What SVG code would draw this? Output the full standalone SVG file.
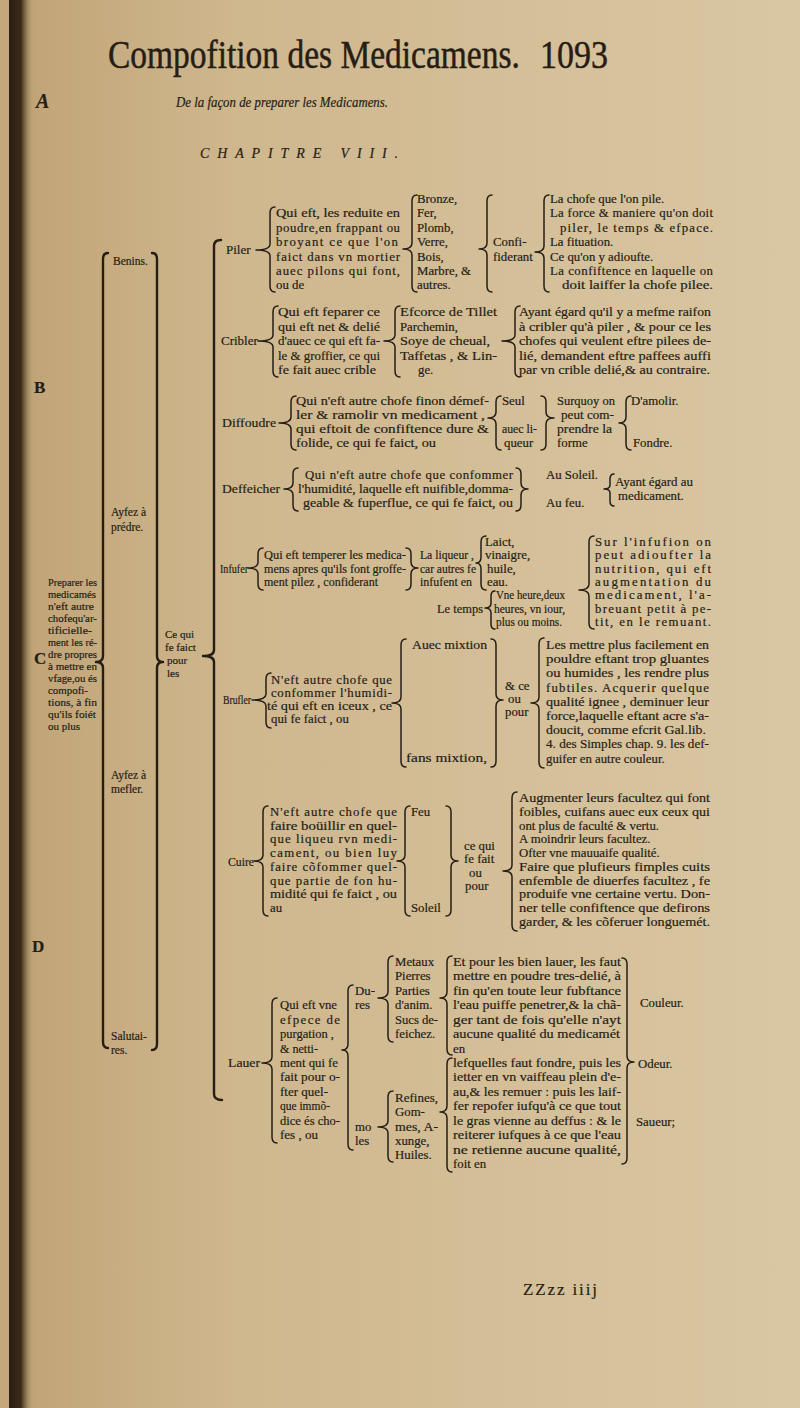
<svg xmlns="http://www.w3.org/2000/svg" width="800" height="1408" viewBox="0 0 800 1408">
<defs>
<linearGradient id="pg" x1="0" y1="0" x2="1" y2="0">
<stop offset="0" stop-color="#b99d70"/>
<stop offset="0.05" stop-color="#c2a679"/>
<stop offset="0.3" stop-color="#cfb78e"/>
<stop offset="1" stop-color="#d9c7a3"/>
</linearGradient>
<linearGradient id="gut" x1="0" y1="0" x2="1" y2="0">
<stop offset="0" stop-color="#2a1e12"/>
<stop offset="0.5" stop-color="#3a2a18"/>
<stop offset="1" stop-color="#a88b60" stop-opacity="0"/>
</linearGradient>
<style>
text{font-family:'Liberation Serif','DejaVu Serif',serif;fill:#261e15;stroke:#261e15;stroke-width:0.2}
.t{font-size:12.8px}
.s{font-size:10.5px}
.rl{font-size:11.5px}
.cq{font-size:11px}
.lb{font-size:13px}
.ml{font-size:17px;font-weight:bold}
.ti{font-size:40px;stroke-width:0.5}
.sb{font-size:14.5px;font-style:italic}
.ch{font-size:14px;font-style:italic}
.ft{font-size:17px}
.am{font-size:20px;font-style:italic;font-weight:bold}
.br{fill:none;stroke:#261e15;stroke-width:1.5;stroke-linecap:round;stroke-linejoin:round}
.bb{fill:none;stroke:#261e15;stroke-width:2.4;stroke-linecap:round;stroke-linejoin:round}
</style>
</defs>
<rect x="0" y="0" width="800" height="1408" fill="url(#pg)"/>
<rect x="0" y="0" width="9" height="1408" fill="#c4a87b"/>
<rect x="9" y="0" width="24" height="1408" fill="url(#gut)"/>

<g id="header">
<text class="ti" transform="translate(108,68) scale(0.837,1)" x="0" y="0">Compofition des Medicamens.</text>
<text class="ti" transform="translate(540,68) scale(0.85,1)" x="0" y="0">1093</text>
<text class="am" x="36" y="108">A</text>
<text class="sb" x="176" y="107" textLength="212" lengthAdjust="spacingAndGlyphs">De la façon de preparer les Medicamens.</text>
<text class="ch" x="200" y="158" textLength="198" lengthAdjust="spacing">CHAPITRE VIII.</text>
</g>

<g id="margin-letters">
<text class="ml" x="34" y="393">B</text>
<text class="ml" x="34" y="664">C</text>
<text class="ml" x="32" y="952">D</text>
</g>

<g id="margin-note">
<text class="s" x="48" y="586" textLength="49" lengthAdjust="spacingAndGlyphs">Preparer les</text>
<text class="s" x="48" y="598" textLength="48" lengthAdjust="spacingAndGlyphs">medicamés</text>
<text class="s" x="48" y="610" textLength="46" lengthAdjust="spacingAndGlyphs">n'eft autre</text>
<text class="s" x="48" y="622" textLength="49" lengthAdjust="spacingAndGlyphs">chofequ'ar-</text>
<text class="s" x="48" y="634" textLength="44" lengthAdjust="spacingAndGlyphs">tificielle-</text>
<text class="s" x="48" y="646" textLength="49" lengthAdjust="spacingAndGlyphs">ment les ré-</text>
<text class="s" x="48" y="658" textLength="49" lengthAdjust="spacingAndGlyphs">dre propres</text>
<text class="s" x="48" y="670" textLength="49" lengthAdjust="spacingAndGlyphs">à mettre en</text>
<text class="s" x="48" y="682" textLength="49" lengthAdjust="spacingAndGlyphs">vfage,ou és</text>
<text class="s" x="48" y="694" textLength="40" lengthAdjust="spacingAndGlyphs">compofi-</text>
<text class="s" x="48" y="706" textLength="49" lengthAdjust="spacingAndGlyphs">tions, à fin</text>
<text class="s" x="48" y="718" textLength="48" lengthAdjust="spacingAndGlyphs">qu'ils foiét</text>
<text class="s" x="48" y="730" textLength="32" lengthAdjust="spacingAndGlyphs">ou plus</text>
</g>

<g id="root">
<text class="rl" x="113" y="265">Benins.</text>
<text class="rl" x="111" y="516">Ayfez à</text>
<text class="rl" x="111" y="531">prédre.</text>
<text class="rl" x="111" y="779">Ayfez à</text>
<text class="rl" x="111" y="793">mefler.</text>
<text class="rl" x="111" y="1040">Salutai-</text>
<text class="rl" x="111" y="1054">res.</text>
</g>

<g id="n-ce-qui">
<text class="cq" x="165" y="638">Ce qui</text>
<text class="cq" x="165" y="651">fe faict</text>
<text class="cq" x="167" y="664">pour</text>
<text class="cq" x="167" y="677">les</text>
</g>

<g id="n-piler">
<text class="lb" x="226" y="254">Piler</text>
<text class="t" x="276" y="217" textLength="124" lengthAdjust="spacingAndGlyphs">Qui eft, les reduite en</text>
<text class="t" x="276" y="231.5" textLength="124" lengthAdjust="spacing">poudre,en frappant ou</text>
<text class="t" x="276" y="246" textLength="122" lengthAdjust="spacing">broyant ce que l'on</text>
<text class="t" x="276" y="260.5" textLength="124" lengthAdjust="spacing">faict dans vn mortier</text>
<text class="t" x="276" y="275" textLength="124" lengthAdjust="spacing">auec pilons qui font,</text>
<text class="t" x="276" y="289">ou de</text>
<text class="t" x="417" y="203">Bronze,</text>
<text class="t" x="417" y="217">Fer,</text>
<text class="t" x="417" y="231.5">Plomb,</text>
<text class="t" x="417" y="246">Verre,</text>
<text class="t" x="417" y="260.5">Bois,</text>
<text class="t" x="417" y="275">Marbre, &amp;</text>
<text class="t" x="417" y="289">autres.</text>
<text class="t" x="493" y="246">Confi-</text>
<text class="t" x="493" y="260.5">fiderant</text>
<text class="t" x="550" y="203">La chofe que l'on pile.</text>
<text class="t" x="550" y="217" textLength="163" lengthAdjust="spacing">La force &amp; maniere qu'on doit</text>
<text class="t" x="560" y="231.5" textLength="153" lengthAdjust="spacing">piler, le temps &amp; efpace.</text>
<text class="t" x="550" y="246">La fituation.</text>
<text class="t" x="550" y="260.5">Ce qu'on y adioufte.</text>
<text class="t" x="550" y="275" textLength="163" lengthAdjust="spacing">La confiftence en laquelle on</text>
<text class="t" x="562" y="289" textLength="151" lengthAdjust="spacingAndGlyphs">doit laiffer la chofe pilee.</text>
</g>

<g id="n-cribler">
<text class="lb" x="221" y="345">Cribler</text>
<text class="t" x="278" y="316" textLength="102" lengthAdjust="spacingAndGlyphs">Qui eft feparer ce</text>
<text class="t" x="278" y="330.5" textLength="102" lengthAdjust="spacingAndGlyphs">qui eft net &amp; delié</text>
<text class="t" x="278" y="345" textLength="102" lengthAdjust="spacingAndGlyphs">d'auec ce qui eft fa-</text>
<text class="t" x="278" y="359.5" textLength="102" lengthAdjust="spacingAndGlyphs">le &amp; groffier, ce qui</text>
<text class="t" x="278" y="374" textLength="98" lengthAdjust="spacingAndGlyphs">fe fait auec crible</text>
<text class="t" x="400" y="316" textLength="97" lengthAdjust="spacingAndGlyphs">Efcorce de Tillet</text>
<text class="t" x="400" y="330.5">Parchemin,</text>
<text class="t" x="400" y="345" textLength="90" lengthAdjust="spacingAndGlyphs">Soye de cheual,</text>
<text class="t" x="400" y="359.5" textLength="97" lengthAdjust="spacingAndGlyphs">Taffetas , &amp; Lin-</text>
<text class="t" x="418" y="374">ge.</text>
<text class="t" x="519" y="316" textLength="192" lengthAdjust="spacingAndGlyphs">Ayant égard qu'il y a mefme raifon</text>
<text class="t" x="519" y="330.5" textLength="192" lengthAdjust="spacingAndGlyphs">à cribler qu'à piler , &amp; pour ce les</text>
<text class="t" x="519" y="345" textLength="192" lengthAdjust="spacingAndGlyphs">chofes qui veulent eftre pilees de-</text>
<text class="t" x="519" y="359.5" textLength="192" lengthAdjust="spacingAndGlyphs">lié, demandent eftre paffees auffi</text>
<text class="t" x="519" y="374" textLength="191" lengthAdjust="spacingAndGlyphs">par vn crible delié,&amp; au contraire.</text>
</g>

<g id="n-diffoudre">
<text class="lb" x="222" y="427" textLength="54" lengthAdjust="spacingAndGlyphs">Diffoudre</text>
<text class="t" x="296" y="405" textLength="193" lengthAdjust="spacingAndGlyphs">Qui n'eft autre chofe finon démef-</text>
<text class="t" x="296" y="419" textLength="189" lengthAdjust="spacingAndGlyphs">ler &amp; ramolir vn medicament ,</text>
<text class="t" x="296" y="433" textLength="193" lengthAdjust="spacingAndGlyphs">qui eftoit de confiftence dure &amp;</text>
<text class="t" x="296" y="447" textLength="140" lengthAdjust="spacingAndGlyphs">folide, ce qui fe faict, ou</text>
<text class="t" x="502" y="405">Seul</text>
<text class="t" x="502" y="433" textLength="35" lengthAdjust="spacingAndGlyphs">auec li-</text>
<text class="t" x="504" y="447">queur</text>
<text class="t" x="557" y="405" textLength="58" lengthAdjust="spacingAndGlyphs">Surquoy on</text>
<text class="t" x="561" y="419" textLength="53" lengthAdjust="spacingAndGlyphs">peut com-</text>
<text class="t" x="557" y="433" textLength="55" lengthAdjust="spacingAndGlyphs">prendre la</text>
<text class="t" x="557" y="447">forme</text>
<text class="t" x="631" y="405">D'amolir.</text>
<text class="t" x="633" y="447">Fondre.</text>
</g>

<g id="n-deffeicher">
<text class="lb" x="222" y="493" textLength="58" lengthAdjust="spacingAndGlyphs">Deffeicher</text>
<text class="t" x="305" y="479" textLength="208" lengthAdjust="spacing">Qui n'eft autre chofe que confommer</text>
<text class="t" x="298" y="493" textLength="215" lengthAdjust="spacingAndGlyphs">l'humidité, laquelle eft nuifible,domma-</text>
<text class="t" x="303" y="507" textLength="210" lengthAdjust="spacingAndGlyphs">geable &amp; fuperflue, ce qui fe faict, ou</text>
<text class="t" x="546" y="479" textLength="52" lengthAdjust="spacingAndGlyphs">Au Soleil.</text>
<text class="t" x="546" y="507">Au feu.</text>
<text class="t" x="615" y="486" textLength="78" lengthAdjust="spacingAndGlyphs">Ayant égard au</text>
<text class="t" x="618" y="500">medicament.</text>
</g>

<g id="n-infufer">
<text class="lb" x="220" y="573" textLength="28" lengthAdjust="spacingAndGlyphs">Infufer</text>
<text class="t" x="264" y="559" textLength="142" lengthAdjust="spacingAndGlyphs">Qui eft temperer les medica-</text>
<text class="t" x="264" y="572.6" textLength="142" lengthAdjust="spacingAndGlyphs">mens apres qu'ils font groffe-</text>
<text class="t" x="264" y="586" textLength="114" lengthAdjust="spacingAndGlyphs">ment pilez , confiderant</text>
<text class="t" x="420" y="559" textLength="54" lengthAdjust="spacingAndGlyphs">La liqueur ,</text>
<text class="t" x="420" y="572.6" textLength="56" lengthAdjust="spacingAndGlyphs">car autres fe</text>
<text class="t" x="420" y="586" textLength="52" lengthAdjust="spacingAndGlyphs">infufent en</text>
<text class="t" x="485" y="546">Laict,</text>
<text class="t" x="485" y="559.3">vinaigre,</text>
<text class="t" x="487" y="572.6">huile,</text>
<text class="t" x="487" y="586">eau.</text>
<text class="t" x="437" y="612.6" textLength="46" lengthAdjust="spacingAndGlyphs">Le temps</text>
<text class="t" x="496" y="599.3" textLength="69" lengthAdjust="spacingAndGlyphs">Vne heure,deux</text>
<text class="t" x="494" y="612.6" textLength="71" lengthAdjust="spacingAndGlyphs">heures, vn iour,</text>
<text class="t" x="496" y="626" textLength="66" lengthAdjust="spacingAndGlyphs">plus ou moins.</text>
<text class="t" x="595" y="546" textLength="116" lengthAdjust="spacing">Sur l'infufion on</text>
<text class="t" x="595" y="559.3" textLength="116" lengthAdjust="spacing">peut adioufter la</text>
<text class="t" x="595" y="572.6" textLength="116" lengthAdjust="spacing">nutrition, qui eft</text>
<text class="t" x="595" y="586" textLength="116" lengthAdjust="spacing">augmentation du</text>
<text class="t" x="595" y="599.3" textLength="116" lengthAdjust="spacing">medicament, l'a-</text>
<text class="t" x="595" y="612.6" textLength="116" lengthAdjust="spacing">breuant petit à pe-</text>
<text class="t" x="595" y="626" textLength="116" lengthAdjust="spacing">tit, en le remuant.</text>
</g>

<g id="n-brufler">
<text class="lb" x="223" y="704" textLength="28" lengthAdjust="spacingAndGlyphs">Brufler</text>
<text class="t" x="271" y="684" textLength="121" lengthAdjust="spacing">N'eft autre chofe que</text>
<text class="t" x="271" y="697" textLength="121" lengthAdjust="spacing">confommer l'humidi-</text>
<text class="t" x="267" y="710" textLength="125" lengthAdjust="spacingAndGlyphs">té qui eft en iceux , ce</text>
<text class="t" x="271" y="723">qui fe faict , ou</text>
<text class="t" x="412" y="649" textLength="75" lengthAdjust="spacingAndGlyphs">Auec mixtion</text>
<text class="t" x="406" y="762" textLength="81" lengthAdjust="spacingAndGlyphs">fans mixtion,</text>
<text class="t" x="505" y="690">&amp; ce</text>
<text class="t" x="508" y="703">ou</text>
<text class="t" x="505" y="716">pour</text>
<text class="t" x="546" y="649" textLength="163" lengthAdjust="spacingAndGlyphs">Les mettre plus facilement en</text>
<text class="t" x="546" y="663.2" textLength="163" lengthAdjust="spacingAndGlyphs">pouldre eftant trop gluantes</text>
<text class="t" x="546" y="677.4" textLength="163" lengthAdjust="spacingAndGlyphs">ou humides , les rendre plus</text>
<text class="t" x="546" y="691.6" textLength="163" lengthAdjust="spacing">fubtiles. Acquerir quelque</text>
<text class="t" x="546" y="705.8" textLength="163" lengthAdjust="spacingAndGlyphs">qualité ignee , deminuer leur</text>
<text class="t" x="546" y="720" textLength="163" lengthAdjust="spacingAndGlyphs">force,laquelle eftant acre s'a-</text>
<text class="t" x="546" y="734.2" textLength="160" lengthAdjust="spacingAndGlyphs">doucit, comme efcrit Gal.lib.</text>
<text class="t" x="546" y="748.4" textLength="163" lengthAdjust="spacingAndGlyphs">4. des Simples chap. 9. les def-</text>
<text class="t" x="546" y="762.6">guifer en autre couleur.</text>
</g>

<g id="n-cuire">
<text class="lb" x="228" y="866" textLength="26" lengthAdjust="spacingAndGlyphs">Cuire</text>
<text class="t" x="270" y="816" textLength="127" lengthAdjust="spacing">N'eft autre chofe que</text>
<text class="t" x="270" y="829.7" textLength="127" lengthAdjust="spacingAndGlyphs">faire boüillir en quel-</text>
<text class="t" x="270" y="843.4" textLength="127" lengthAdjust="spacing">que liqueu rvn medi-</text>
<text class="t" x="270" y="857.1" textLength="127" lengthAdjust="spacing">cament, ou bien luy</text>
<text class="t" x="270" y="870.8" textLength="127" lengthAdjust="spacing">faire cõfommer quel-</text>
<text class="t" x="270" y="884.5" textLength="127" lengthAdjust="spacing">que partie de fon hu-</text>
<text class="t" x="270" y="898.2" textLength="127" lengthAdjust="spacingAndGlyphs">midité qui fe faict , ou</text>
<text class="t" x="270" y="912">au</text>
<text class="t" x="411" y="816">Feu</text>
<text class="t" x="411" y="912">Soleil</text>
<text class="t" x="464" y="850">ce qui</text>
<text class="t" x="464" y="863">fe fait</text>
<text class="t" x="469" y="877">ou</text>
<text class="t" x="465" y="890">pour</text>
<text class="t" x="519" y="802" textLength="191" lengthAdjust="spacingAndGlyphs">Augmenter leurs facultez qui font</text>
<text class="t" x="519" y="816" textLength="191" lengthAdjust="spacingAndGlyphs">foibles, cuifans auec eux ceux qui</text>
<text class="t" x="519" y="829.7">ont plus de faculté &amp; vertu.</text>
<text class="t" x="519" y="843.4">A moindrir leurs facultez.</text>
<text class="t" x="519" y="857.1">Ofter vne mauuaife qualité.</text>
<text class="t" x="519" y="870.8" textLength="191" lengthAdjust="spacingAndGlyphs">Faire que plufieurs fimples cuits</text>
<text class="t" x="519" y="884.5" textLength="191" lengthAdjust="spacingAndGlyphs">enfemble de diuerfes facultez , fe</text>
<text class="t" x="519" y="898.2" textLength="191" lengthAdjust="spacingAndGlyphs">produife vne certaine vertu. Don-</text>
<text class="t" x="519" y="912" textLength="191" lengthAdjust="spacingAndGlyphs">ner telle confiftence que defirons</text>
<text class="t" x="519" y="926" textLength="191" lengthAdjust="spacingAndGlyphs">garder, &amp; les cõferuer longuemét.</text>
</g>

<g id="n-lauer">
<text class="lb" x="228" y="1067" textLength="32" lengthAdjust="spacingAndGlyphs">Lauer</text>
<text class="t" x="280" y="1009.3" textLength="57" lengthAdjust="spacingAndGlyphs">Qui eft vne</text>
<text class="t" x="280" y="1023.7" textLength="60" lengthAdjust="spacing">efpece de</text>
<text class="t" x="280" y="1038.2" textLength="54" lengthAdjust="spacingAndGlyphs">purgation ,</text>
<text class="t" x="280" y="1052.6" textLength="38" lengthAdjust="spacingAndGlyphs">&amp; netti-</text>
<text class="t" x="280" y="1067" textLength="58" lengthAdjust="spacingAndGlyphs">ment qui fe</text>
<text class="t" x="280" y="1081.4" textLength="60" lengthAdjust="spacingAndGlyphs">fait pour o-</text>
<text class="t" x="280" y="1095.9" textLength="48" lengthAdjust="spacingAndGlyphs">fter quel-</text>
<text class="t" x="280" y="1110.3" textLength="50" lengthAdjust="spacingAndGlyphs">que immõ-</text>
<text class="t" x="280" y="1124.7" textLength="60" lengthAdjust="spacingAndGlyphs">dice és cho-</text>
<text class="t" x="280" y="1139.2" textLength="38" lengthAdjust="spacingAndGlyphs">fes , ou</text>
<text class="t" x="355" y="994.9">Du-</text>
<text class="t" x="355" y="1009.3">res</text>
<text class="t" x="355" y="1131">mo</text>
<text class="t" x="355" y="1145">les</text>
<text class="t" x="395" y="966">Metaux</text>
<text class="t" x="395" y="980.4">Pierres</text>
<text class="t" x="395" y="994.9">Parties</text>
<text class="t" x="395" y="1009.3">d'anim.</text>
<text class="t" x="395" y="1023.7" textLength="43" lengthAdjust="spacingAndGlyphs">Sucs de-</text>
<text class="t" x="395" y="1038.2">feichez.</text>
<text class="t" x="395" y="1102" textLength="43" lengthAdjust="spacingAndGlyphs">Refines,</text>
<text class="t" x="395" y="1116">Gom-</text>
<text class="t" x="395" y="1131" textLength="43" lengthAdjust="spacingAndGlyphs">mes, A-</text>
<text class="t" x="395" y="1145">xunge,</text>
<text class="t" x="395" y="1159">Huiles.</text>
<text class="t" x="453" y="966" textLength="168" lengthAdjust="spacingAndGlyphs">Et pour les bien lauer, les faut</text>
<text class="t" x="453" y="980.4" textLength="168" lengthAdjust="spacingAndGlyphs">mettre en poudre tres-delié, à</text>
<text class="t" x="453" y="994.9" textLength="168" lengthAdjust="spacingAndGlyphs">fin qu'en toute leur fubftance</text>
<text class="t" x="453" y="1009.3" textLength="168" lengthAdjust="spacingAndGlyphs">l'eau puiffe penetrer,&amp; la chã-</text>
<text class="t" x="453" y="1023.7" textLength="168" lengthAdjust="spacingAndGlyphs">ger tant de fois qu'elle n'ayt</text>
<text class="t" x="453" y="1038.2" textLength="167" lengthAdjust="spacingAndGlyphs">aucune qualité du medicamét</text>
<text class="t" x="453" y="1052.6">en</text>
<text class="t" x="453" y="1067" textLength="168" lengthAdjust="spacingAndGlyphs">lefquelles faut fondre, puis les</text>
<text class="t" x="453" y="1081.4" textLength="168" lengthAdjust="spacingAndGlyphs">ietter en vn vaiffeau plein d'e-</text>
<text class="t" x="453" y="1095.9" textLength="168" lengthAdjust="spacingAndGlyphs">au,&amp; les remuer : puis les laif-</text>
<text class="t" x="453" y="1110.3" textLength="168" lengthAdjust="spacingAndGlyphs">fer repofer iufqu'à ce que tout</text>
<text class="t" x="453" y="1124.7" textLength="168" lengthAdjust="spacingAndGlyphs">le gras vienne au deffus : &amp; le</text>
<text class="t" x="453" y="1139.2" textLength="168" lengthAdjust="spacingAndGlyphs">reiterer iufques à ce que l'eau</text>
<text class="t" x="453" y="1153.6" textLength="168" lengthAdjust="spacingAndGlyphs">ne retienne aucune qualité,</text>
<text class="t" x="453" y="1168">foit en</text>
<text class="t" x="640" y="1007">Couleur.</text>
<text class="t" x="638" y="1068">Odeur.</text>
<text class="t" x="636" y="1126">Saueur;</text>
</g>

<g id="footer">
<text class="ft" x="523" y="1295" textLength="74" lengthAdjust="spacing">ZZzz iiij</text>
</g>

<g id="connectors">
<path class="bb" d="M108,253 Q103,253 103,259 L103,656 Q103,662 96,662 Q103,662 103,668 L103,1042 Q103,1048 108,1048"/>
<path class="bb" d="M152,253 Q157,253 157,259 L157,656 Q157,662 163,662 Q157,662 157,668 L157,1044 Q157,1050 152,1050"/>
<path class="bb" d="M221,240 Q214,240 214,246 L214,650 Q214,656 203,656 Q214,656 214,662 L214,1094 Q214,1100 222,1100"/>
<path class="br" d="M275,207 Q270,207 270,213 L270,244 Q270,250 256,250 Q270,250 270,256 L270,286 Q270,292 275,292"/>
<path class="br" d="M417,195 Q412,195 412,201 L412,243 Q412,249 403,249 Q412,249 412,255 L412,286 Q412,292 417,292"/>
<path class="br" d="M492,195 Q487,195 487,201 L487,243 Q487,249 479,249 Q487,249 487,255 L487,286 Q487,292 492,292"/>
<path class="br" d="M549,195 Q544,195 544,201 L544,246 Q544,252 535,252 Q544,252 544,258 L544,286 Q544,292 549,292"/>
<path class="br" d="M278,306 Q273,306 273,312 L273,335 Q273,341 258,341 Q273,341 273,347 L273,371 Q273,377 278,377"/>
<path class="br" d="M400,306 Q395,306 395,312 L395,335 Q395,341 384,341 Q395,341 395,347 L395,371 Q395,377 400,377"/>
<path class="br" d="M520,306 Q515,306 515,312 L515,335 Q515,341 502,341 Q515,341 515,347 L515,371 Q515,377 520,377"/>
<path class="br" d="M296,396 Q291,396 291,402 L291,417 Q291,423 279,423 Q291,423 291,429 L291,444 Q291,450 296,450"/>
<path class="br" d="M501,396 Q496,396 496,402 L496,412 Q496,418 488,418 Q496,418 496,424 L496,444 Q496,450 501,450"/>
<path class="br" d="M541,396 Q546,396 546,402 L546,412 Q546,418 554,418 Q546,418 546,424 L546,444 Q546,450 541,450"/>
<path class="br" d="M631,396 Q626,396 626,402 L626,417 Q626,423 619,423 Q626,423 626,429 L626,444 Q626,450 631,450"/>
<path class="br" d="M298,468 Q293,468 293,474 L293,483 Q293,489 284,489 Q293,489 293,495 L293,505 Q293,511 298,511"/>
<path class="br" d="M516,468 Q521,468 521,474 L521,483 Q521,489 528,489 Q521,489 521,495 L521,505 Q521,511 516,511"/>
<path class="br" d="M614,474 Q610,474 610,479 L610,485 Q610,489 604,489 Q610,489 610,493 L610,501 Q610,506 614,506"/>
<path class="br" d="M263,548 Q258,548 258,554 L258,562 Q258,568 248,568 Q258,568 258,574 L258,584 Q258,590 263,590"/>
<path class="br" d="M406,548 Q411,548 411,554 L411,562 Q411,568 418,568 Q411,568 411,574 L411,584 Q411,590 406,590"/>
<path class="br" d="M486,536 Q481,536 481,542 L481,557 Q481,563 476,563 Q481,563 481,569 L481,584 Q481,590 486,590"/>
<path class="br" d="M495,591 Q491,591 491,596 L491,603 Q491,608 485,608 Q491,608 491,613 L491,624 Q491,629 495,629"/>
<path class="br" d="M594,536 Q589,536 589,542 L589,584 Q589,590 579,590 Q589,590 589,596 L589,623 Q589,629 594,629"/>
<path class="br" d="M271,673 Q266,673 266,679 L266,694 Q266,700 252,700 Q266,700 266,706 L266,722 Q266,728 271,728"/>
<path class="br" d="M406,639 Q401,639 401,645 L401,697 Q401,703 392,703 Q401,703 401,709 L401,761 Q401,767 406,767"/>
<path class="br" d="M491,639 Q496,639 496,645 L496,694 Q496,700 503,700 Q496,700 496,706 L496,761 Q496,767 491,767"/>
<path class="br" d="M544,638 Q539,638 539,644 L539,697 Q539,703 531,703 Q539,703 539,709 L539,762 Q539,768 544,768"/>
<path class="br" d="M268,806 Q263,806 263,812 L263,855 Q263,861 254,861 Q263,861 263,867 L263,910 Q263,916 268,916"/>
<path class="br" d="M410,806 Q405,806 405,812 L405,855 Q405,861 397,861 Q405,861 405,867 L405,910 Q405,916 410,916"/>
<path class="br" d="M446,806 Q451,806 451,812 L451,855 Q451,861 458,861 Q451,861 451,867 L451,910 Q451,916 446,916"/>
<path class="br" d="M517,792 Q512,792 512,798 L512,865 Q512,871 503,871 Q512,871 512,877 L512,925 Q512,931 517,931"/>
<path class="br" d="M277,998 Q272,998 272,1004 L272,1057 Q272,1063 262,1063 Q272,1063 272,1069 L272,1137 Q272,1143 277,1143"/>
<path class="br" d="M353,985 Q348,985 348,991 L348,1044 Q348,1050 342,1050 Q348,1050 348,1056 L348,1144 Q348,1150 353,1150"/>
<path class="br" d="M393,956 Q388,956 388,962 L388,992 Q388,998 378,998 Q388,998 388,1004 L388,1036 Q388,1042 393,1042"/>
<path class="br" d="M393,1091 Q388,1091 388,1097 L388,1121 Q388,1127 378,1127 Q388,1127 388,1133 L388,1156 Q388,1162 393,1162"/>
<path class="br" d="M452,956 Q447,956 447,962 L447,992 Q447,998 440,998 Q447,998 447,1004 L447,1049 Q447,1055 452,1055"/>
<path class="br" d="M452,1058 Q447,1058 447,1064 L447,1106 Q447,1112 440,1112 Q447,1112 447,1118 L447,1166 Q447,1172 452,1172"/>
<path class="br" d="M622,958 Q627,958 627,964 L627,1056 Q627,1062 634,1062 Q627,1062 627,1068 L627,1158 Q627,1164 622,1164"/>
</g>
</svg>
